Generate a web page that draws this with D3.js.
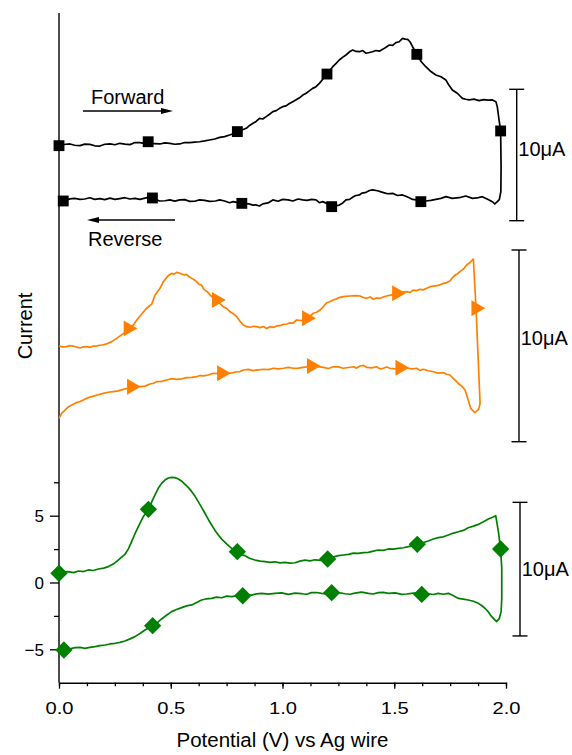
<!DOCTYPE html>
<html>
<head>
<meta charset="utf-8">
<script src="https://cdn.jsdelivr.net/npm/d3@7"></script>
<style>
  html, body { margin: 0; padding: 0; background: #fff; }
  svg { display: block; font-family: "Liberation Sans", Arial, Helvetica, sans-serif; }
</style>
</head>
<body>
<svg id="chart" width="572" height="755"></svg>
<script>
// ---- Cyclic voltammograms: [potential (V), current (µA)] ----

// Black trace (square symbols)
const blackForward = [
  [0.000,5.71],[0.022,5.80],[0.049,5.84],[0.070,5.74],[0.094,5.71],[0.115,5.83],[0.138,5.81],[0.160,5.70],
  [0.183,5.68],[0.205,5.82],[0.228,5.84],[0.250,5.78],[0.272,5.89],[0.295,5.83],[0.317,5.79],[0.340,5.95],
  [0.362,5.94],[0.380,5.88],[0.399,6.01],[0.425,5.86],[0.451,5.84],[0.474,5.92],[0.496,5.89],[0.518,5.82],
  [0.540,5.84],[0.562,5.95],[0.585,5.94],[0.607,5.98],[0.629,6.01],[0.652,6.07],[0.674,6.14],[0.697,6.22],
  [0.719,6.34],[0.741,6.40],[0.763,6.52],[0.780,6.62],[0.798,6.78],[0.818,6.90],[0.838,7.03],[0.853,7.25],
  [0.868,7.41],[0.882,7.55],[0.897,7.79],[0.912,7.74],[0.927,7.92],[0.942,8.10],[0.957,8.30],[0.972,8.38],
  [0.987,8.55],[1.001,8.68],[1.016,8.74],[1.031,8.92],[1.046,9.06],[1.061,9.20],[1.076,9.35],[1.091,9.56],
  [1.106,9.70],[1.120,9.88],[1.135,10.07],[1.150,10.20],[1.165,10.45],[1.182,10.80],[1.199,11.16],[1.212,11.45],
  [1.225,11.72],[1.240,11.98],[1.254,12.23],[1.270,12.45],[1.284,12.61],[1.300,12.85],[1.314,12.99],[1.329,12.88],
  [1.344,12.86],[1.359,12.95],[1.374,12.74],[1.389,12.80],[1.403,12.86],[1.418,12.95],[1.433,12.90],[1.448,13.04],
  [1.463,13.20],[1.478,13.37],[1.493,13.35],[1.507,13.55],[1.522,13.62],[1.537,13.88],[1.549,13.82],[1.560,13.80],
  [1.571,13.60],[1.582,13.24],[1.592,12.95],[1.601,12.66],[1.621,12.10],[1.641,11.72],[1.664,11.35],[1.686,11.09],
  [1.709,10.95],[1.731,10.71],[1.745,10.30],[1.760,9.95],[1.782,9.70],[1.805,9.31],[1.820,9.24],[1.835,9.19],
  [1.857,9.25],[1.879,9.14],[1.900,9.22],[1.920,9.17],[1.939,9.19],[1.955,9.05],[1.961,8.68],[1.969,7.66],
  [1.976,6.83],[1.978,4.11],[1.977,2.21],[1.970,1.60],[1.961,1.45],[1.950,1.27]
];
const blackReverse = [
  [1.939,1.45],[1.920,1.62],[1.894,1.83],[1.870,1.73],[1.850,1.70],[1.820,1.88],[1.790,1.75],[1.760,1.70],
  [1.731,1.83],[1.709,1.70],[1.686,1.62],[1.664,1.55],[1.641,1.50],[1.619,1.45],[1.600,1.58],[1.582,1.62],
  [1.560,1.80],[1.537,1.96],[1.515,1.92],[1.493,2.08],[1.470,2.05],[1.448,2.16],[1.425,2.28],[1.403,2.34],
  [1.389,2.30],[1.374,2.16],[1.355,2.10],[1.344,1.96],[1.325,1.90],[1.314,1.78],[1.300,1.62],[1.284,1.58],
  [1.270,1.35],[1.254,1.19],[1.220,1.07],[1.200,1.30],[1.180,1.45],[1.165,1.37],[1.150,1.58],[1.130,1.62],
  [1.110,1.55],[1.091,1.58],[1.070,1.65],[1.046,1.50],[1.025,1.58],[1.001,1.62],[0.980,1.48],[0.957,1.58],
  [0.935,1.35],[0.912,1.28],[0.897,1.12],[0.880,1.20],[0.868,1.19],[0.850,1.28],[0.818,1.32],[0.800,1.37],
  [0.780,1.45],[0.763,1.37],[0.741,1.50],[0.719,1.58],[0.700,1.50],[0.674,1.47],[0.652,1.55],[0.629,1.58],
  [0.607,1.48],[0.585,1.47],[0.562,1.60],[0.540,1.58],[0.518,1.49],[0.496,1.58],[0.474,1.52],[0.451,1.50],
  [0.430,1.62],[0.418,1.73],[0.400,1.78],[0.380,1.70],[0.362,1.62],[0.340,1.70],[0.317,1.65],[0.295,1.75],
  [0.272,1.68],[0.250,1.62],[0.228,1.72],[0.205,1.60],[0.183,1.68],[0.160,1.62],[0.138,1.75],[0.115,1.65],
  [0.094,1.62],[0.070,1.70],[0.049,1.66],[0.030,1.55],[0.019,1.50],[0.000,1.50]
];
const blackMarkers = [
  [0.000,5.71],[0.399,6.01],[0.798,6.78],[1.199,11.16],[1.601,12.66],[1.976,6.83],
  [1.619,1.45],[1.220,1.07],[0.818,1.32],[0.418,1.73],[0.019,1.50]
];

// Orange trace (triangle symbols)
const orangeForward = [
  [0.000,4.99],[0.017,4.95],[0.034,4.96],[0.049,5.01],[0.064,4.99],[0.079,4.93],[0.094,4.89],[0.109,4.95],
  [0.124,4.96],[0.139,4.92],[0.154,4.99],[0.169,5.00],[0.183,5.03],[0.198,5.05],[0.213,5.10],[0.236,5.22],
  [0.258,5.39],[0.280,5.57],[0.295,5.70],[0.310,5.91],[0.333,6.09],[0.348,6.35],[0.370,6.66],[0.392,6.96],
  [0.415,7.18],[0.430,7.65],[0.452,8.00],[0.467,8.35],[0.482,8.57],[0.493,8.70],[0.504,8.78],[0.515,8.74],
  [0.526,8.83],[0.538,8.80],[0.549,8.75],[0.560,8.70],[0.571,8.73],[0.582,8.60],[0.594,8.52],[0.605,8.45],
  [0.616,8.35],[0.627,8.20],[0.638,8.17],[0.646,7.98],[0.653,7.91],[0.665,7.80],[0.676,7.65],[0.690,7.50],
  [0.705,7.39],[0.720,7.20],[0.735,7.04],[0.750,6.95],[0.765,6.78],[0.780,6.68],[0.795,6.52],[0.810,6.28],
  [0.825,6.09],[0.840,6.00],[0.855,5.97],[0.870,6.02],[0.884,6.00],[0.899,5.95],[0.914,6.01],[0.929,5.91],
  [0.944,6.00],[0.959,5.96],[0.974,6.04],[0.989,6.05],[1.004,6.12],[1.019,6.14],[1.034,6.20],[1.048,6.18],
  [1.063,6.35],[1.085,6.32],[1.108,6.44],[1.123,6.55],[1.138,6.70],[1.153,6.75],[1.168,6.87],[1.183,7.05],
  [1.198,7.25],[1.212,7.30],[1.227,7.39],[1.242,7.45],[1.257,7.53],[1.280,7.58],[1.302,7.60],[1.325,7.62],
  [1.347,7.60],[1.362,7.52],[1.377,7.48],[1.392,7.55],[1.406,7.43],[1.421,7.50],[1.436,7.48],[1.451,7.55],
  [1.466,7.60],[1.488,7.66],[1.511,7.74],[1.533,7.80],[1.556,7.83],[1.570,7.78],[1.585,7.91],[1.600,7.88],
  [1.615,7.95],[1.630,7.92],[1.645,8.00],[1.660,8.08],[1.675,8.12],[1.697,8.15],[1.720,8.26],[1.735,8.30],
  [1.749,8.38],[1.760,8.55],[1.772,8.69],[1.783,8.75],[1.794,8.87],[1.809,9.00],[1.824,9.22],[1.839,9.35],
  [1.854,9.53],[1.866,6.96],[1.884,2.00],[1.878,1.70],[1.861,1.51]
];
const orangeReverse = [
  [1.842,1.74],[1.831,2.17],[1.817,2.70],[1.802,2.90],[1.790,3.00],[1.779,3.13],[1.764,3.30],[1.749,3.48],
  [1.735,3.52],[1.720,3.60],[1.697,3.58],[1.675,3.65],[1.652,3.70],[1.630,3.78],[1.615,3.72],[1.600,3.83],
  [1.582,3.80],[1.563,3.83],[1.545,3.90],[1.526,3.86],[1.503,3.80],[1.481,3.83],[1.466,3.90],[1.451,3.83],
  [1.436,3.80],[1.421,3.91],[1.399,3.85],[1.377,3.88],[1.362,3.98],[1.347,3.95],[1.332,3.84],[1.317,3.91],
  [1.295,3.87],[1.272,3.83],[1.250,3.90],[1.227,3.91],[1.205,3.82],[1.183,3.88],[1.160,3.92],[1.130,3.95],
  [1.108,3.90],[1.093,3.88],[1.071,3.84],[1.048,3.83],[1.026,3.88],[1.004,3.83],[0.981,3.80],[0.959,3.83],
  [0.937,3.76],[0.914,3.78],[0.892,3.75],[0.869,3.71],[0.847,3.77],[0.825,3.74],[0.810,3.66],[0.795,3.65],
  [0.780,3.60],[0.765,3.57],[0.746,3.60],[0.728,3.57],[0.710,3.55],[0.691,3.57],[0.668,3.48],[0.646,3.43],
  [0.631,3.45],[0.616,3.39],[0.594,3.36],[0.571,3.34],[0.549,3.28],[0.526,3.25],[0.504,3.29],[0.482,3.22],
  [0.460,3.15],[0.437,3.13],[0.422,3.05],[0.407,3.01],[0.385,2.90],[0.362,2.87],[0.340,2.88],[0.325,2.87],
  [0.307,2.78],[0.288,2.73],[0.265,2.65],[0.243,2.61],[0.220,2.58],[0.198,2.52],[0.176,2.45],[0.154,2.38],
  [0.131,2.30],[0.109,2.18],[0.094,2.10],[0.079,2.04],[0.064,1.95],[0.049,1.86],[0.038,1.78],[0.027,1.65],
  [0.012,1.48],[0.000,1.22]
];
const orangeMarkers = [
  [0.310,5.91],[0.705,7.39],[1.108,6.44],[1.511,7.74],[1.866,6.96],
  [1.526,3.86],[1.130,3.95],[0.728,3.57],[0.325,2.87]
];

// Green trace (diamond symbols), read against the left axis
const greenForward = [
  [0.000,0.69],[0.021,0.78],[0.042,0.81],[0.065,0.74],[0.087,0.86],[0.110,0.82],[0.131,0.94],[0.153,0.90],
  [0.176,1.01],[0.200,1.08],[0.221,1.19],[0.243,1.38],[0.265,1.68],[0.280,1.90],[0.295,2.11],[0.310,2.50],
  [0.325,3.06],[0.340,3.65],[0.355,4.18],[0.377,4.93],[0.400,5.48],[0.422,6.30],[0.444,7.05],[0.459,7.42],
  [0.474,7.67],[0.489,7.82],[0.504,7.87],[0.519,7.85],[0.534,7.75],[0.549,7.58],[0.564,7.35],[0.579,7.10],
  [0.594,6.80],[0.609,6.45],[0.623,6.05],[0.638,5.62],[0.653,5.18],[0.668,4.72],[0.683,4.30],[0.698,3.90],
  [0.713,3.55],[0.728,3.25],[0.743,3.01],[0.758,2.76],[0.773,2.56],[0.785,2.40],[0.798,2.31],[0.815,2.10],
  [0.832,2.01],[0.855,1.80],[0.877,1.68],[0.900,1.60],[0.922,1.56],[0.944,1.50],[0.966,1.55],[0.989,1.47],
  [1.011,1.51],[1.034,1.45],[1.056,1.48],[1.078,1.60],[1.101,1.68],[1.123,1.62],[1.145,1.70],[1.175,1.66],
  [1.202,1.76],[1.225,1.90],[1.250,2.01],[1.272,2.06],[1.295,2.11],[1.317,2.20],[1.339,2.18],[1.362,2.24],
  [1.384,2.26],[1.406,2.35],[1.429,2.43],[1.451,2.40],[1.474,2.51],[1.496,2.50],[1.518,2.56],[1.541,2.60],
  [1.563,2.68],[1.585,2.74],[1.603,2.86],[1.628,2.98],[1.652,3.11],[1.675,3.26],[1.697,3.36],[1.720,3.42],
  [1.742,3.56],[1.765,3.70],[1.787,3.80],[1.809,3.90],[1.831,4.10],[1.854,4.22],[1.876,4.35],[1.899,4.55],
  [1.921,4.75],[1.940,4.88],[1.954,5.00],[1.966,3.80],[1.976,2.51],[1.981,1.06],[1.981,-1.19],[1.978,-2.18],
  [1.970,-2.70],[1.958,-2.93]
];
const greenReverse = [
  [1.936,-2.56],[1.921,-2.20],[1.906,-1.93],[1.891,-1.72],[1.876,-1.56],[1.854,-1.40],[1.831,-1.31],[1.809,-1.25],
  [1.787,-1.19],[1.765,-1.00],[1.742,-0.81],[1.720,-0.88],[1.697,-0.81],[1.675,-0.90],[1.652,-0.84],[1.623,-0.89],
  [1.600,-0.78],[1.578,-0.81],[1.555,-0.86],[1.533,-0.89],[1.504,-0.78],[1.474,-0.81],[1.451,-0.74],[1.429,-0.76],
  [1.406,-0.86],[1.384,-0.81],[1.354,-0.72],[1.324,-0.79],[1.302,-0.88],[1.280,-0.84],[1.250,-0.76],[1.220,-0.76],
  [1.197,-0.86],[1.175,-0.81],[1.153,-0.75],[1.130,-0.76],[1.108,-0.88],[1.086,-0.84],[1.056,-0.80],[1.026,-0.89],
  [0.996,-0.78],[0.966,-0.81],[0.937,-0.87],[0.907,-0.81],[0.884,-0.85],[0.862,-0.94],[0.840,-0.90],[0.822,-0.99],
  [0.798,-0.98],[0.773,-1.06],[0.750,-1.02],[0.728,-1.14],[0.705,-1.10],[0.683,-1.19],[0.660,-1.22],[0.638,-1.31],
  [0.616,-1.50],[0.594,-1.68],[0.571,-1.75],[0.549,-1.88],[0.526,-2.02],[0.504,-2.18],[0.481,-2.45],[0.459,-2.73],
  [0.440,-3.00],[0.419,-3.23],[0.402,-3.40],[0.385,-3.56],[0.362,-3.82],[0.340,-4.05],[0.318,-4.22],[0.295,-4.38],
  [0.273,-4.48],[0.251,-4.55],[0.228,-4.60],[0.206,-4.68],[0.183,-4.72],[0.161,-4.80],[0.138,-4.85],[0.116,-4.93],
  [0.094,-4.86],[0.072,-4.88],[0.050,-4.96],[0.022,-5.05],[0.000,-5.18]
];
const greenMarkers = [
  [0.000,0.69],[0.400,5.48],[0.798,2.31],[1.202,1.76],[1.603,2.86],[1.976,2.51],
  [1.623,-0.89],[1.220,-0.76],[0.822,-0.99],[0.419,-3.23],[0.022,-5.05]
];

// Axis ticks and 10 µA scale bars (µA span in each trace's own units)
const xMajorTicks = [0, 0.5, 1.0, 1.5, 2.0];
const xMinorTicks = d3.range(0, 2.0001, 0.125);
const yMajorTicks = [-5, 0, 5];
const yMinorTicks = [-2.5, 2.5, 7.5];
const blackBar = [0, 10];
const orangeBar = [0, 10];
const greenBar = [-4, 6];
const barLabel = "10\u03bcA";

// ---- layout ----
const svg = d3.select("#chart");
const FONT = '"Liberation Sans", Arial, Helvetica, sans-serif';

const x = d3.scaleLinear().domain([0, 2]).range([59, 506]);
const yBlack = d3.scaleLinear().domain([0, 10]).range([220.7, 89.3]);
const yOrange = d3.scaleLinear().domain([0, 10]).range([441.7, 250]);
const yGreen = d3.scaleLinear().domain([-7.5, 7.5]).range([682.7, 482.3]);

const traces = [
  { fwd: blackForward, rev: blackReverse, marks: blackMarkers, y: yBlack, color: "#000000", shape: "square",
    bar: blackBar, barX: 516.7, labelAt: 5.5, labelX: 518.3 },
  { fwd: orangeForward, rev: orangeReverse, marks: orangeMarkers, y: yOrange, color: "#ff8000", shape: "triangle",
    bar: orangeBar, barX: 519, labelAt: 5.4, labelX: 520.7 },
  { fwd: greenForward, rev: greenReverse, marks: greenMarkers, y: yGreen, color: "#008000", shape: "diamond",
    bar: greenBar, barX: 520, labelAt: 1.0, labelX: 521.7 }
];

// axes
const axisColor = "#000";
svg.append("line")
  .attr("x1", x(0)).attr("x2", x(0))
  .attr("y1", 13).attr("y2", yGreen(-7.5))
  .attr("stroke", axisColor).attr("stroke-width", 1.4);

const yMajor = svg.append("g").attr("transform", `translate(${x(0)},0)`)
  .call(d3.axisLeft(yGreen).tickValues(yMajorTicks).tickSize(9).tickSizeOuter(0).tickPadding(5)
    .tickFormat(d3.format("d")));
const yMinor = svg.append("g").attr("transform", `translate(${x(0)},0)`)
  .call(d3.axisLeft(yGreen).tickValues(yMinorTicks).tickSize(5).tickSizeOuter(0).tickFormat(""));
[yMajor, yMinor].forEach(g => {
  g.select(".domain").remove();
  g.selectAll(".tick line").attr("stroke", axisColor).attr("stroke-width", 1.3);
});
yMajor.selectAll(".tick text")
  .attr("font-family", FONT).attr("font-size", 17).attr("fill", "#000")
  .attr("x", -15).attr("dy", "0.36em");

const xMinor = svg.append("g").attr("transform", `translate(0,${yGreen(-7.5)})`)
  .call(d3.axisBottom(x).tickValues(xMinorTicks).tickSize(3.5).tickSizeOuter(0).tickFormat(""));
const xMajor = svg.append("g").attr("transform", `translate(0,${yGreen(-7.5)})`)
  .call(d3.axisBottom(x).tickValues(xMajorTicks).tickSize(6).tickSizeOuter(0).tickFormat(d3.format(".1f")));
xMinor.select(".domain").remove();
xMajor.select(".domain").attr("stroke", axisColor).attr("stroke-width", 1.4);
[xMinor, xMajor].forEach(g => g.selectAll(".tick line").attr("stroke", axisColor).attr("stroke-width", 1.3));
xMajor.selectAll(".tick text")
  .attr("font-family", FONT).attr("font-size", 16.5).attr("fill", "#000")
  .attr("y", 31.5).attr("dy", 0)
  .attr("textLength", 28).attr("lengthAdjust", "spacingAndGlyphs");

// axis titles
svg.append("text")
  .attr("x", 282.5).attr("y", 747)
  .attr("text-anchor", "middle")
  .attr("font-family", FONT).attr("font-size", 20.5)
  .text("Potential (V) vs Ag wire");
svg.append("text")
  .attr("transform", "translate(31.5,326) rotate(-90)")
  .attr("text-anchor", "middle")
  .attr("font-family", FONT).attr("font-size", 20)
  .text("Current");

// traces
const symbolFor = {
  square: d3.symbol().type(d3.symbolSquare).size(118)(),
  triangle: d3.symbol().type(d3.symbolTriangle).size(110)(),
  diamond: d3.symbol().type(d3.symbolSquare).size(150)()
};
const rotFor = { square: 0, triangle: 90, diamond: 45 };

traces.forEach(t => {
  const line = d3.line().x(d => x(d[0])).y(d => t.y(d[1]));
  svg.append("path")
    .attr("d", line(t.fwd.concat(t.rev)))
    .attr("fill", "none")
    .attr("stroke", t.color)
    .attr("stroke-width", 1.7)
    .attr("stroke-linejoin", "round");

  svg.append("g").selectAll("path")
    .data(t.marks)
    .join("path")
    .attr("d", symbolFor[t.shape])
    .attr("transform", d => `translate(${x(d[0])},${t.y(d[1])}) rotate(${rotFor[t.shape]})`)
    .attr("fill", t.color);

  // 10 µA scale bar
  const y0 = t.y(t.bar[0]), y1 = t.y(t.bar[1]);
  const bar = svg.append("g").attr("stroke", "#000").attr("stroke-width", 1.4);
  bar.append("line").attr("x1", t.barX).attr("x2", t.barX).attr("y1", y0).attr("y2", y1);
  bar.append("line").attr("x1", t.barX - 7.5).attr("x2", t.barX + 7.5).attr("y1", y0).attr("y2", y0);
  bar.append("line").attr("x1", t.barX - 7.5).attr("x2", t.barX + 7.5).attr("y1", y1).attr("y2", y1);
  svg.append("text")
    .attr("x", t.labelX).attr("y", t.y(t.labelAt))
    .attr("dy", "0.36em")
    .attr("font-family", FONT).attr("font-size", 20)
    .text(barLabel);
});

// scan direction annotations
function arrow(x1, x2, yy) {
  const dir = Math.sign(x2 - x1);
  svg.append("line")
    .attr("x1", x1).attr("x2", x2 - dir * 8).attr("y1", yy).attr("y2", yy)
    .attr("stroke", "#000").attr("stroke-width", 1.6);
  svg.append("path")
    .attr("d", `M${x2},${yy} L${x2 - dir * 12},${yy - 3} L${x2 - dir * 12},${yy + 3} Z`)
    .attr("fill", "#000");
}
svg.append("text").attr("x", 91).attr("y", 103.5)
  .attr("font-family", FONT).attr("font-size", 20).text("Forward");
arrow(83, 173, 111);
arrow(175, 87, 220);
svg.append("text").attr("x", 88).attr("y", 245.5)
  .attr("font-family", FONT).attr("font-size", 20).text("Reverse");
</script>
</body>
</html>
